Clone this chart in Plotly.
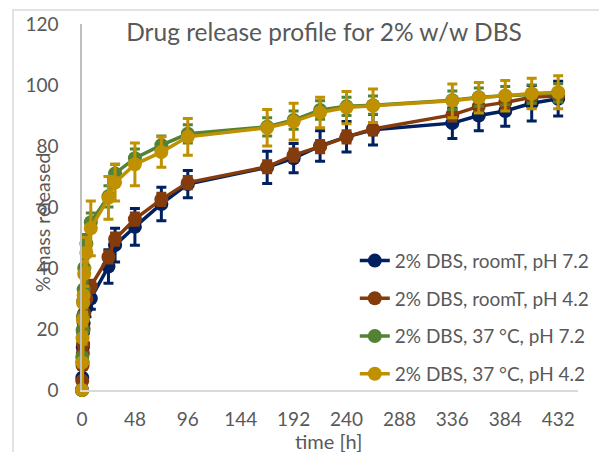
import plotly.graph_objects as go

# ---- data ----
time_h = [0, 0.25, 0.5, 0.75, 1, 1.5, 2, 4, 8, 24, 30, 48, 72, 96, 168, 192, 216, 240, 264, 336, 360, 384, 408, 432]

room_ph72 = [0, 4, 9, 14, 19, 22, 25, 27, 30, 40.5, 47.5, 53.5, 61, 67.5, 73, 76, 80, 83, 85.3, 87.5, 90, 91.5, 94, 95.5]
room_ph72_err = [0, 1, 1, 1.5, 2, 2, 2.5, 3, 3.5, 5.5, 5.5, 6, 5.5, 4.5, 5.3, 4.8, 5, 5, 5, 5, 5, 5, 5.8, 5.7]

room_ph42 = [0, 3, 8, 12, 15, 20, 25, 30, 34, 43.6, 49.5, 56, 62.5, 68, 73.2, 77, 79.8, 83, 85.6, 90.2, 93, 94.3, 96, 96.5]
room_ph42_err = [0, 0.5, 1, 1, 1, 1, 1.5, 1.5, 2, 2, 2, 2, 2, 2, 2, 2, 2, 2, 2, 2, 2, 2, 2, 2]

t37_ph72 = [0, 10.8, 19.7, 24, 29, 33, 40, 48, 55, 63.5, 71, 76, 80.3, 84, 86.3, 88.5, 91.8, 93, 93.4, 95, 96, 96.5, 97, 97.4]
t37_ph72_err = [0, 1, 1.5, 2, 2, 2.5, 3, 3, 3, 3.5, 3, 3, 3, 3, 3, 3, 3, 3, 3, 3, 3, 3, 3, 3]

t37_ph42 = [0, 9, 17, 23, 28.5, 31, 38, 45, 53, 63, 68, 74, 78, 83, 86, 88, 91, 92.6, 93.2, 94.8, 95.8, 96.5, 97.2, 97.6]
t37_ph42_err = [0, 1, 2, 2, 3, 3, 4, 5, 9, 7, 6, 7, 5, 6, 6, 6, 5, 5.3, 5.5, 5.5, 5, 5, 5, 5.4]

series_names = ["2% DBS, roomT, pH 7.2", "2% DBS, roomT, pH 4.2",
                "2% DBS, 37 °C, pH 7.2", "2% DBS, 37 °C, pH 4.2"]
series_colors = ["#002060", "#843C0C", "#548235", "#BF9000"]

x_ticks = [0, 48, 96, 144, 192, 240, 288, 336, 384, 432]
y_ticks = [0, 20, 40, 60, 80, 100, 120]

FONT = "Lato"
GREY = "#595959"

fig = go.Figure()
for i, (vals, errs) in enumerate([(room_ph72, room_ph72_err), (room_ph42, room_ph42_err),
                                  (t37_ph72, t37_ph72_err), (t37_ph42, t37_ph42_err)]):
    fig.add_trace(go.Scatter(
        x=time_h, y=vals, name=series_names[i], legendgroup=f"g{i}",
        mode="lines+markers", cliponaxis=False,
        line=dict(color=series_colors[i], width=3.5),
        marker=dict(color=series_colors[i], size=14),
        error_y=dict(type="data", array=errs, visible=True,
                     color=series_colors[i], thickness=3, width=5),
    ))

fig.update_layout(
    width=599, height=452,
    margin=dict(l=82, r=21, t=24, b=62, autoexpand=False),
    paper_bgcolor="white", plot_bgcolor="white",
    font=dict(family=FONT, color=GREY, size=19),
    title=dict(text="Drug release profile for 2% w/w DBS",
               x=324 / 599, xanchor="center", xref="container",
               y=1 - 32 / 452, yanchor="middle", yref="container",
               font=dict(family=FONT, size=24.5, color=GREY)),
    legend=dict(x=0.55, xanchor="left", y=0.405, yanchor="top",
                bgcolor="rgba(255,255,255,0)", tracegroupgap=10,
                font=dict(family=FONT, size=19, color=GREY)),
    showlegend=True,
)
fig.update_xaxes(range=[0, 450], tickvals=x_ticks, showgrid=False, zeroline=False,
                 showline=True, linecolor="#D9D9D9", linewidth=1.5,
                 ticks="", ticklabelstandoff=11,
                 tickfont=dict(family=FONT, size=19, color=GREY))
fig.update_yaxes(range=[0, 120], tickvals=y_ticks, showgrid=False, zeroline=False,
                 showline=True, linecolor="#BFBFBF", linewidth=1.5,
                 ticks="", ticklabelstandoff=18,
                 tickfont=dict(family=FONT, size=19, color=GREY))

fig.add_annotation(text="time [h]", xref="paper", yref="paper",
                   x=(328 - 82) / 496, y=(390 - 441) / 366, xanchor="center", yanchor="middle",
                   showarrow=False, font=dict(family=FONT, size=20, color=GREY))
fig.add_annotation(text="% mass released", xref="paper", yref="paper",
                   x=(42 - 82) / 496, y=(390 - 223) / 366, xanchor="center", yanchor="middle",
                   textangle=-90, showarrow=False, font=dict(family=FONT, size=19.5, color=GREY))

fig.add_shape(type="rect", xref="paper", yref="paper",
              x0=(13 - 82) / 496, x1=(610 - 82) / 496,
              y0=(390 - 470) / 366, y1=(390 - 10) / 366,
              line=dict(color="#D9D9D9", width=1.5), fillcolor="rgba(0,0,0,0)", layer="below")

fig.write_html("out.html")
